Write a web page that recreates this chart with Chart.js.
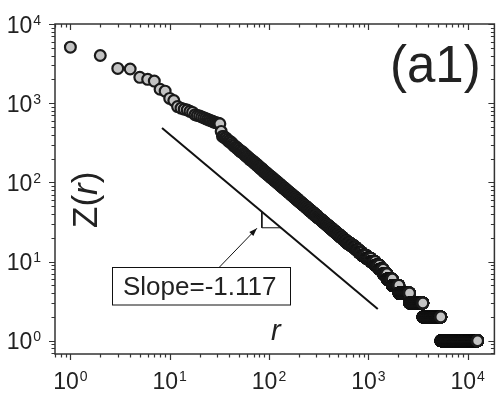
<!DOCTYPE html>
<html><head><meta charset="utf-8">
<script src="https://cdn.jsdelivr.net/npm/chart.js@4/dist/chart.umd.min.js"></script>
<style>html,body{margin:0;padding:0;background:#fff;} #wrap{width:502px;height:402px;position:relative;}</style>
</head><body><div id="wrap"><canvas id="c"></canvas></div>
<script>
// ---- data ----
// individual leading ranks
const topRanks = [1,2,3,4,5,6,7,8,9,10,11,12,13,14,15,16,17,18,19,20,21,22,23,24,25,26,27,28,29,30,31,32,33];
const topFreq  = [5100,4000,2750,2700,2120,2000,1900,1500,1420,1150,1080,905,865,840,820,790,765,715,700,690,670,655,640,625,612,600,590,578,568,562,556,550,440];
// frequency levels Z and the last rank holding each level
const levelFreq = [380,363,347,332,318,304,291,278,266,254,243,232,222,212,203,194,186,178,170,163,156,149,142,136,130,124,119,114,109,104,99,95,91,87,83,79,76,73,70,67,64,61,58,56,54,52,50,48,46,44,42,40,38,36,35,34,33,32,31,30,29,28,27,26,25,24,23,22,21,20,19,18,17,16,15,14,13,12,11,10,9,8,7,6,5,4,3,2,1];
const levelLastRank = [35,37,38,40,42,43,45,47,49,51,54,56,58,61,63,66,69,72,75,78,81,85,88,92,96,100,104,109,113,119,124,129,134,140,147,153,159,165,172,179,187,196,204,211,218,226,235,244,254,265,277,291,305,317,326,335,345,355,366,377,390,403,417,433,449,467,486,508,531,556,584,615,660,710,755,805,865,950,1060,1170,1290,1410,1540,1742,2030,2600,3540,5370,12600];
// axis decades (tick labels 10^n)
const xDecades = [0,1,2,3,4];
const yDecades = [0,1,2,3,4];
// fitted guide line, right-angle marker and arrow (data coordinates)
const fitRank = [8.37, 1245];
const fitFreq = [485, 2.51];
const markRank = [84.7, 84.7, 131.7];
const markFreq = [42.5, 26.7, 26.7];
const arrowRank = [30.8, 75.5];
const arrowFreq = [8.2, 26.3];
const slopeText = 'Slope=-1.117';
const panelLabel = '(a1)';

const pts = [];
topRanks.forEach((r,i)=>pts.push({x:r,y:topFreq[i]}));
let prev = topRanks[topRanks.length-1];
levelFreq.forEach((z,i)=>{ for(let r=prev+1;r<=levelLastRank[i];r++) pts.push({x:r,y:z}); prev=levelLastRank[i]; });

const FONT = '"Liberation Sans", Arial, sans-serif';
const INK = '#222';
const AXIS = '#333';

function drawPow(ctx, exp, x, y, align){
  ctx.font = '23px ' + FONT;
  const w1 = ctx.measureText('10').width;
  ctx.font = '14px ' + FONT;
  const w2 = ctx.measureText(String(exp)).width;
  const gap = 1;
  const total = w1 + gap + w2;
  const left = align === 'center' ? x - total/2 : x - total;
  ctx.fillStyle = INK;
  ctx.textAlign = 'left';
  ctx.textBaseline = 'alphabetic';
  ctx.font = '23px ' + FONT;
  ctx.fillText('10', left, y);
  ctx.font = '14px ' + FONT;
  ctx.fillText(String(exp), left + w1 + gap, y - 8);
}

const deco = {
  id: 'deco',
  afterDraw(chart){
    const ctx = chart.ctx, a = chart.chartArea, xs = chart.scales.x, ys = chart.scales.y;
    ctx.save();
    // frame
    ctx.strokeStyle = AXIS; ctx.lineWidth = 1.5;
    ctx.strokeRect(a.left, a.top, a.right - a.left, a.bottom - a.top);
    // ticks
    ctx.lineWidth = 1.2;
    ctx.beginPath();
    for (let d = -1; d <= 4; d++) {
      for (let m = 1; m <= 9; m++) {
        const v = m * Math.pow(10, d);
        const len = m === 1 ? 6 : 3.5;
        if (v >= xs.min && v <= xs.max) {
          const px = Math.round(xs.getPixelForValue(v)) + 0.5;
          ctx.moveTo(px, a.bottom); ctx.lineTo(px, a.bottom + len);
          ctx.moveTo(px, a.top); ctx.lineTo(px, a.top + len);
        }
        if (v >= ys.min && v <= ys.max) {
          const py = Math.round(ys.getPixelForValue(v)) + 0.5;
          ctx.moveTo(a.left, py); ctx.lineTo(a.left - len, py);
          ctx.moveTo(a.right, py); ctx.lineTo(a.right - len, py);
        }
      }
    }
    ctx.stroke();
    // tick labels
    xDecades.forEach(e => drawPow(ctx, e, xs.getPixelForValue(Math.pow(10, e)), 389, 'center'));
    yDecades.forEach(e => drawPow(ctx, e, 41, ys.getPixelForValue(Math.pow(10, e)) + 8.5, 'right'));
    // panel label
    ctx.fillStyle = INK; ctx.textAlign = 'left'; ctx.textBaseline = 'alphabetic';
    ctx.font = '51px ' + FONT;
    ctx.fillText(panelLabel, 390, 82);
    // y title Z(r), rotated
    ctx.save();
    ctx.translate(97, 228); ctx.rotate(-Math.PI/2);
    let x0 = 0;
    ctx.font = '35px ' + FONT; ctx.fillText('Z(', x0, 0); x0 += ctx.measureText('Z(').width;
    ctx.font = 'italic 35px ' + FONT; ctx.fillText('r', x0, 0); x0 += ctx.measureText('r').width;
    ctx.font = '35px ' + FONT; ctx.fillText(')', x0, 0);
    ctx.restore();
    // x title r
    ctx.font = 'italic 29px ' + FONT;
    ctx.fillText('r', 271, 340);
    // arrow head
    const ax0 = xs.getPixelForValue(arrowRank[0]), ay0 = ys.getPixelForValue(arrowFreq[0]);
    const ax1 = xs.getPixelForValue(arrowRank[1]), ay1 = ys.getPixelForValue(arrowFreq[1]);
    const ang = Math.atan2(ay1 - ay0, ax1 - ax0);
    ctx.fillStyle = '#111';
    ctx.beginPath();
    ctx.moveTo(ax1, ay1);
    ctx.lineTo(ax1 - 8*Math.cos(ang) + 2.8*Math.sin(ang), ay1 - 8*Math.sin(ang) - 2.8*Math.cos(ang));
    ctx.lineTo(ax1 - 8*Math.cos(ang) - 2.8*Math.sin(ang), ay1 - 8*Math.sin(ang) + 2.8*Math.cos(ang));
    ctx.closePath(); ctx.fill();
    // slope box
    ctx.fillStyle = '#fff'; ctx.fillRect(112, 267.5, 179, 37.5);
    ctx.strokeStyle = '#111'; ctx.lineWidth = 1;
    ctx.strokeRect(112.5, 267.5, 178, 37.5);
    ctx.fillStyle = INK; ctx.font = '26px ' + FONT;
    ctx.fillText(slopeText, 123, 295);
    ctx.restore();
  }
};

new Chart(document.getElementById('c'), {
  type: 'scatter',
  data: { datasets: [
    { data: pts, pointRadius: 5.4, pointHoverRadius: 5.4, pointStyle: 'circle',
      pointBackgroundColor: '#c3c3c3', pointBorderColor: '#1a1a1a', pointBorderWidth: 2.2 },
    { data: fitRank.map((r,i)=>({x:r, y:fitFreq[i]})), showLine: true, borderColor: '#111', borderWidth: 2, pointRadius: 0 },
    { data: markRank.map((r,i)=>({x:r, y:markFreq[i]})), showLine: true, borderColor: '#111', borderWidth: 1, pointRadius: 0 },
    { data: arrowRank.map((r,i)=>({x:r, y:arrowFreq[i]})), showLine: true, borderColor: '#111', borderWidth: 1, pointRadius: 0 }
  ]},
  options: {
    animation: false, responsive: true, maintainAspectRatio: false, events: [],
    plugins: { legend: { display: false }, tooltip: { enabled: false } },
    layout: { padding: { left: 55, top: 24, right: 2, bottom: 48 } },
    scales: {
      x: { type: 'logarithmic', min: 0.71, max: 18600, display: false },
      y: { type: 'logarithmic', min: 0.68, max: 10000, display: false }
    }
  },
  plugins: [deco]
});
</script></body></html>
